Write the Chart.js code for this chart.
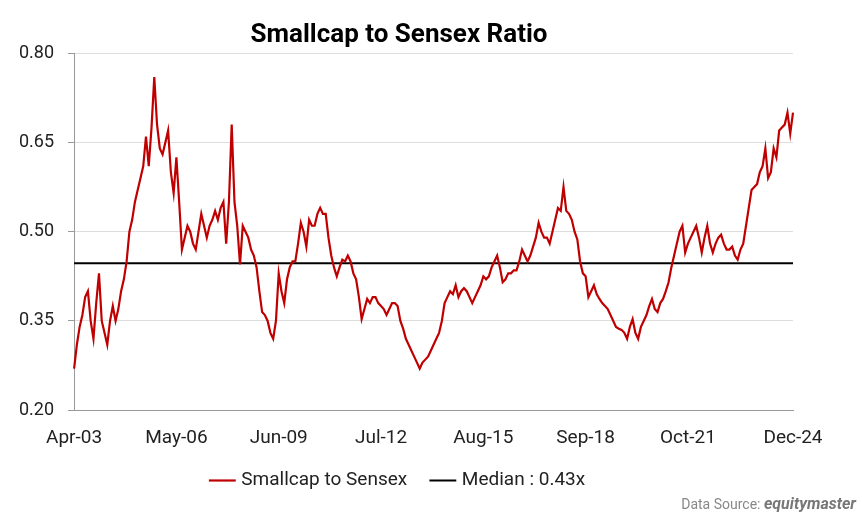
<!DOCTYPE html>
<html><head><meta charset="utf-8">
<script src="https://cdn.jsdelivr.net/npm/chart.js@4"></script>
<style>html,body{margin:0;padding:0;background:#fff}#w{position:relative;width:862px;height:532px}
#src{position:absolute;right:6px;top:494px;font:14px Roboto;color:#888}#src b{font-style:italic;color:#777;font-size:16px}</style>
</head><body><div id="w"><canvas id="c" width="862" height="532"></canvas><div id="src">Data Source: <b>equitymaster</b></div></div>
<script>
const startYear = 2003, startMonth = 3; // April
const ratio = [0.27,0.31,0.34,0.36,0.39,0.40,0.35,0.32,0.38,0.43,0.35,0.33,0.31,0.35,0.375,0.35,0.37,0.40,0.42,0.45,
0.50,0.52,0.55,0.57,0.59,0.61,0.66,0.61,0.675,0.76,0.68,0.64,0.63,0.65,0.67,0.60,0.565,0.625,0.55,0.47,
0.49,0.51,0.50,0.48,0.47,0.50,0.53,0.51,0.49,0.51,0.52,0.535,0.52,0.54,0.55,0.48,0.55,0.68,0.55,0.51,
0.445,0.51,0.50,0.49,0.47,0.46,0.44,0.40,0.365,0.36,0.35,0.33,0.32,0.35,0.43,0.40,0.38,0.42,0.44,0.45,
0.45,0.48,0.515,0.50,0.475,0.52,0.51,0.51,0.53,0.54,0.53,0.53,0.49,0.46,0.44,0.425,0.44,0.453,0.45,0.46,
0.45,0.43,0.42,0.39,0.353,0.37,0.387,0.38,0.39,0.39,0.38,0.375,0.37,0.36,0.37,0.38,0.38,0.375,0.35,0.337,
0.32,0.31,0.30,0.29,0.28,0.27,0.28,0.285,0.29,0.30,0.31,0.32,0.33,0.35,0.38,0.39,0.40,0.395,0.41,0.39,
0.40,0.405,0.40,0.39,0.38,0.39,0.40,0.41,0.425,0.42,0.425,0.44,0.45,0.46,0.44,0.415,0.42,0.43,0.43,0.435,
0.435,0.45,0.47,0.46,0.45,0.46,0.475,0.49,0.515,0.50,0.49,0.49,0.48,0.50,0.52,0.54,0.535,0.575,0.535,0.53,
0.52,0.50,0.487,0.45,0.43,0.425,0.39,0.40,0.41,0.395,0.387,0.38,0.375,0.37,0.36,0.35,0.34,0.337,0.335,0.33,
0.32,0.34,0.353,0.33,0.32,0.34,0.35,0.36,0.375,0.387,0.37,0.365,0.38,0.387,0.40,0.415,0.44,0.46,0.48,0.50,
0.51,0.465,0.48,0.49,0.50,0.51,0.49,0.465,0.49,0.51,0.48,0.465,0.48,0.49,0.495,0.48,0.47,0.47,0.475,0.46,
0.453,0.47,0.48,0.51,0.54,0.57,0.575,0.58,0.60,0.61,0.64,0.59,0.60,0.64,0.625,0.67,0.675,0.68,0.70,0.665,0.70];
const medianValue = 0.447;
const tickLabels = ['Apr-03','May-06','Jun-09','Jul-12','Aug-15','Sep-18','Oct-21','Dec-24'];
const mn=['Jan','Feb','Mar','Apr','May','Jun','Jul','Aug','Sep','Oct','Nov','Dec'];
const labels = ratio.map((_, i) => { const m=startMonth+i; return mn[m%12]+'-'+String((startYear+Math.floor(m/12))%100).padStart(2,'0'); });
const median = labels.map(() => medianValue);
const F='Roboto', C='#222';
new Chart(document.getElementById('c'), {
  type:'line',
  data:{labels, datasets:[
    {label:'Smallcap to Sensex   ', data:ratio, borderColor:'#c00000', borderWidth:2.2, pointRadius:0, tension:0},
    {label:'Median : 0.43x', data:median, borderColor:'#000', borderWidth:2, pointRadius:0}
  ]},
  options:{responsive:false, animation:false,
    layout:{padding:{left:5,right:69,top:14,bottom:32}},
    plugins:{
      title:{display:true,text:'Smallcap to Sensex Ratio',font:{family:F,size:26,weight:'bold'},color:'#000',padding:{top:6,bottom:2}},
      legend:{position:'bottom',labels:{usePointStyle:true,pointStyle:'line',boxWidth:32,font:{family:F,size:19},color:C,padding:12}},
      tooltip:{enabled:false}
    },
    scales:{
      x:{grid:{display:false},border:{color:'#999'},
        ticks:{autoSkip:false,maxRotation:0,padding:9,font:{family:F,size:19},color:C,
          callback:(v,i)=>{const t=labels[i];return tickLabels.includes(t)?t:null;}}},
      y:{min:0.2,max:0.8,ticks:{stepSize:0.15,padding:14,font:{family:F,size:18},color:C,callback:v=>v.toFixed(2)},
        grid:{color:'#ddd',tickLength:6,tickColor:'#999'},border:{color:'#999'}}
    }
  }
});
</script></body></html>
